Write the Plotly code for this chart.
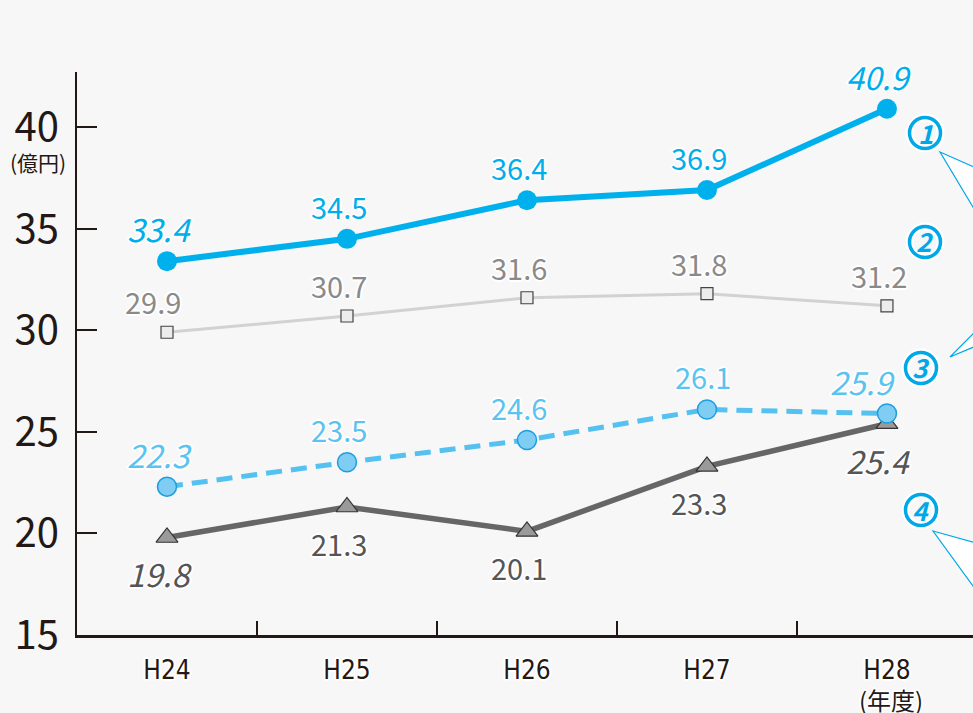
import plotly.graph_objects as go

categories = ["H24", "H25", "H26", "H27", "H28"]
series1 = [33.4, 34.5, 36.4, 36.9, 40.9]
series2 = [29.9, 30.7, 31.6, 31.8, 31.2]
series3 = [22.3, 23.5, 24.6, 26.1, 25.9]
series4 = [19.8, 21.3, 20.1, 23.3, 25.4]
y_ticks = [15, 20, 25, 30, 35, 40]
callout_numbers = ["1", "2", "3", "4"]

FONT = "Noto Sans CJK JP, Noto Sans, sans-serif"
NARROW = "DejaVu Sans Condensed, Liberation Sans Narrow, Noto Sans CJK JP, sans-serif"
DARK = "#231815"
BLUE = "#00a8e8"
HALO = "1px 1px 0 #fff, -1px -1px 0 #fff, 1px -1px 0 #fff, -1px 1px 0 #fff, 0 2px 0 #fff, 0 -2px 0 #fff, 2px 0 0 #fff, -2px 0 0 #fff"

L, T, W, H = 77, 72, 896, 563  # plot area in pixels


def px2paper(px, py):
    return (px - L) / W, (T + H - py) / H


fig = go.Figure()

fig.add_trace(go.Scatter(
    x=categories, y=series2, mode="lines+markers",
    line=dict(color="#d2d2d2", width=3),
    marker=dict(symbol="square", size=12, color="#ececec", line=dict(color="#444", width=1.2)),
    hoverinfo="skip", showlegend=False))
fig.add_trace(go.Scatter(
    x=categories, y=series4, mode="lines+markers",
    line=dict(color="#666666", width=5.5),
    marker=dict(symbol="triangle-up", size=19, color="#9a9a9a", line=dict(color="#333", width=1.2)),
    hoverinfo="skip", showlegend=False))
fig.add_trace(go.Scatter(
    x=categories, y=series3, mode="lines+markers",
    line=dict(color="#55c1f0", width=5, dash="16px,9px"),
    marker=dict(symbol="circle", size=19, color="#80cdf4", line=dict(color="#1a9fe0", width=1.5)),
    hoverinfo="skip", showlegend=False))
fig.add_trace(go.Scatter(
    x=categories, y=series1, mode="lines+markers",
    line=dict(color="#00b0ec", width=6),
    marker=dict(symbol="circle", size=20, color="#00b0ec"),
    hoverinfo="skip", showlegend=False))


def add_labels(values, color, yshift, xshift=-8, italic_ends=True, special=None):
    n = len(values)
    for i, v in enumerate(values):
        italic = italic_ends and (i == 0 or i == n - 1)
        xs = xshift
        if special and i in special:
            xs = special[i]
        fig.add_annotation(
            x=categories[i], y=v, text=f"{v:.1f}", showarrow=False,
            xanchor="center", yanchor="middle",
            xshift=xs, yshift=yshift,
            font=dict(family=FONT, size=32 if italic else 29, color=color,
                      style="italic" if italic else "normal", shadow=HALO))


add_labels(series1, "#00aeea", 33)
add_labels(series2, "#8a8a8a", 31, xshift=-8, italic_ends=False, special={0: -14})
add_labels(series3, "#5bc3ef", 33, special={3: -4, 4: -24})
add_labels(series4, "#555555", -36, special={4: -9})

# circled series numbers on the right
callout_pos = [(925, 133), (925, 242), (921, 368), (921, 510)]
R = 15.5
for lab, (cx, cy) in zip(callout_numbers, callout_pos):
    x0, y0 = px2paper(cx - R, cy + R)
    x1, y1 = px2paper(cx + R, cy - R)
    fig.add_shape(type="circle", xref="paper", yref="paper", layer="above",
                  x0=x0, y0=y0, x1=x1, y1=y1,
                  fillcolor="rgba(255,255,255,0)", line=dict(color="white", width=8))
    fig.add_shape(type="circle", xref="paper", yref="paper", layer="above",
                  x0=x0, y0=y0, x1=x1, y1=y1,
                  fillcolor="rgba(255,255,255,0)", line=dict(color=BLUE, width=3.5))
    xp, yp = px2paper(cx, cy)
    fig.add_annotation(xref="paper", yref="paper", x=xp, y=yp,
                       xanchor="center", yanchor="middle", yshift=1,
                       text=f"<b>{lab}</b>", showarrow=False,
                       font=dict(family=FONT, size=26, color=BLUE, style="italic"))


# partial speech-bubble pointers on the right edge
def ppath(points):
    s = ""
    for k, (px, py) in enumerate(points):
        xp, yp = px2paper(px, py)
        s += ("M" if k == 0 else "L") + f"{xp:.4f},{yp:.4f} "
    return s + "Z"


for pts in [[(940, 152), (976, 168), (976, 212)],
            [(950, 357), (976, 331), (976, 346)],
            [(933, 531), (976, 543), (976, 590)]]:
    fig.add_shape(type="path", xref="paper", yref="paper", layer="above",
                  path=ppath(pts), fillcolor="white", line=dict(color=BLUE, width=1.2))

# unit labels
xp, yp = px2paper(38, 162)
fig.add_annotation(xref="paper", yref="paper", x=xp, y=yp, xanchor="center", yanchor="middle",
                   text="(億円)", showarrow=False,
                   font=dict(family=FONT, size=21, color=DARK))
xp, yp = px2paper(0, 699)
fig.add_annotation(xref="x", yref="paper", x=categories[4], y=yp, xshift=4,
                   xanchor="center", yanchor="middle",
                   text="(年度)", showarrow=False,
                   font=dict(family=FONT, size=24, color=DARK, shadow=HALO))

fig.update_layout(
    width=973, height=713,
    margin=dict(l=L, r=973 - L - W, t=T, b=713 - T - H),
    paper_bgcolor="#f7f7f7", plot_bgcolor="#f7f7f7",
    showlegend=False,
    xaxis=dict(type="category", range=[-0.5, 4.478], tickson="boundaries",
               ticks="inside", ticklen=14, tickwidth=1.5, tickcolor=DARK,
               showline=True, linecolor=DARK, linewidth=2.5,
               showgrid=False, zeroline=False, ticklabelstandoff=10,
               tickfont=dict(family=NARROW, size=26, color=DARK, shadow=HALO)),
    yaxis=dict(range=[15, 42.71], tickvals=y_ticks, ticks="inside", ticklen=20,
               tickwidth=2, tickcolor=DARK, showline=True, linecolor=DARK, linewidth=2,
               showgrid=False, zeroline=False, ticklabelstandoff=8,
               tickfont=dict(family=FONT, size=40, color=DARK)),
)

fig.write_html("out.html", config={"displayModeBar": False},
               post_script="document.body.style.margin='0';document.body.style.background='#f7f7f7';")
